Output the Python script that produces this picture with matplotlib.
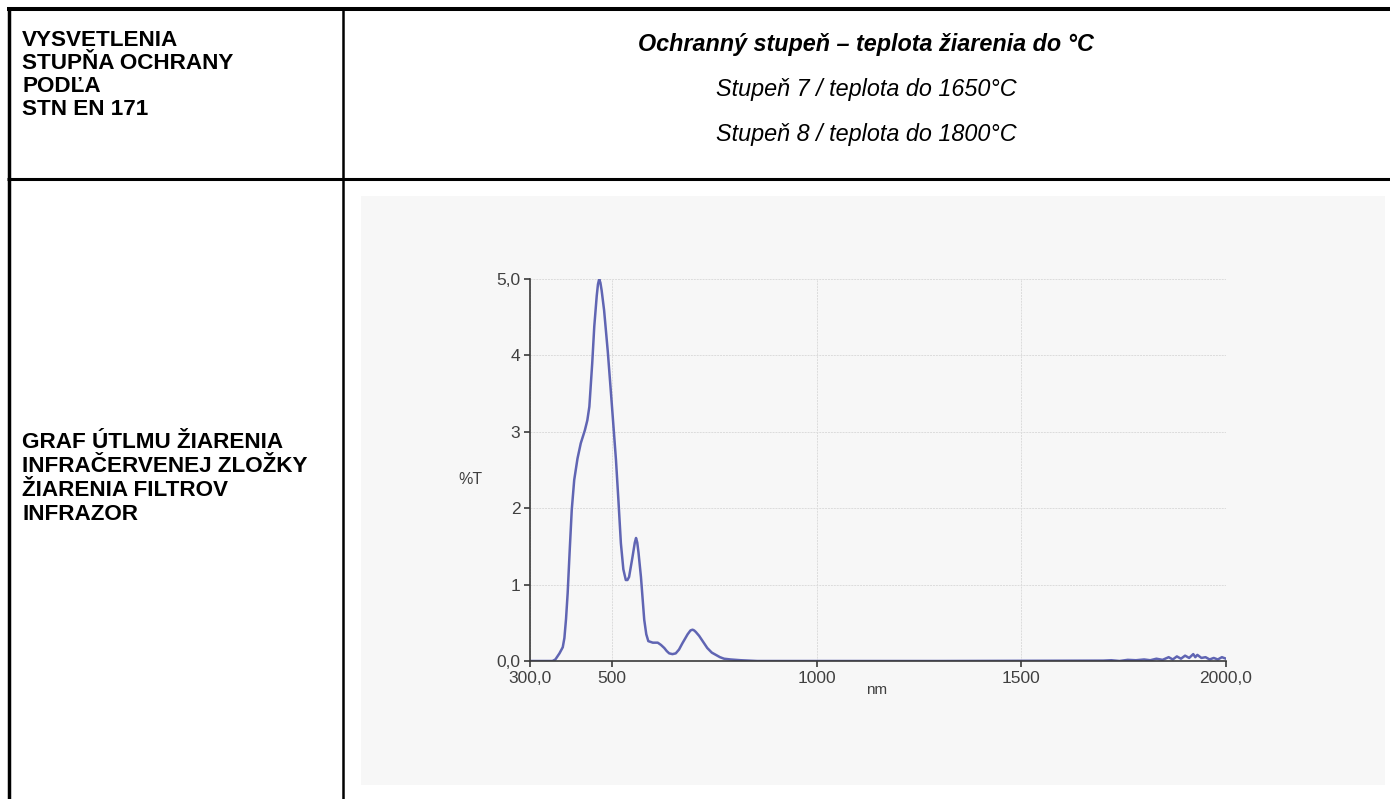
import matplotlib
matplotlib.use('Agg')
import matplotlib.pyplot as plt
from matplotlib.patches import Rectangle

# spectrum (nm, %T)
wavelength = [300, 330, 355, 362, 367, 372, 376, 380, 384, 388, 392, 397, 402, 408, 416, 424,
              434, 440, 445, 452, 457, 463, 466, 469, 472, 475, 481, 490, 499, 510, 516, 522,
              528, 534, 538, 542, 550, 556, 559, 562, 565, 571, 579, 584, 589, 600, 612,
              620, 628, 634, 640, 648, 656, 664, 672, 685, 692, 697, 701, 705, 713, 723,
              733, 744, 754, 764, 774, 790, 815, 855, 1000, 1300, 1700, 1720, 1740, 1760,
              1780, 1800, 1815, 1830, 1845, 1860, 1870, 1880, 1890, 1900, 1910, 1920,
              1925, 1930, 1940, 1950, 1960, 1970, 1980, 1990, 2000]
transmission = [0.0, 0.0, 0.0, 0.02, 0.06, 0.1, 0.14, 0.18, 0.3, 0.55, 0.89, 1.45, 1.98,
                2.37, 2.65, 2.85, 3.02, 3.15, 3.33, 3.9, 4.38, 4.78, 4.93, 5.0, 4.95, 4.85,
                4.59, 4.05, 3.42, 2.63, 2.1, 1.54, 1.2, 1.06, 1.06, 1.1, 1.35, 1.55, 1.61,
                1.55, 1.42, 1.10, 0.54, 0.35, 0.26, 0.24, 0.24, 0.21, 0.17, 0.13, 0.10,
                0.09, 0.10, 0.15, 0.23, 0.35, 0.40, 0.41, 0.40, 0.38, 0.33, 0.25, 0.17,
                0.11, 0.08, 0.05, 0.03, 0.02, 0.01, 0.0, 0.0, 0.0, 0.005, 0.01, 0.0, 0.015,
                0.01, 0.02, 0.01, 0.03, 0.015, 0.05, 0.02, 0.06, 0.03, 0.07, 0.04, 0.09,
                0.05, 0.08, 0.04, 0.05, 0.02, 0.04, 0.02, 0.05, 0.03]

x_ticks = [300, 500, 1000, 1500, 2000]
x_labels = ['300,0', '500', '1000', '1500', '2000,0']
y_ticks = [0, 1, 2, 3, 4, 5]
y_labels = ['0,0', '1', '2', '3', '4', '5,0']

left_top = ['VYSVETLENIA', 'STUPŇA OCHRANY', 'PODĽA', 'STN EN 171']
left_bottom = ['GRAF ÚTLMU ŽIARENIA', 'INFRAČERVENEJ ZLOŽKY', 'ŽIARENIA FILTROV', 'INFRAZOR']
right_title = 'Ochranný stupeň – teplota žiarenia do °C'
right_lines = ['Stupeň 7 / teplota do 1650°C', 'Stupeň 8 / teplota do 1800°C']

plt.rcParams['font.family'] = ['Liberation Sans', 'DejaVu Sans']

W, H = 1390, 799
fig = plt.figure(figsize=(W / 100, H / 100), dpi=100)
fig.patch.set_facecolor('white')

# page layer in pixel coordinates
page = fig.add_axes([0, 0, 1, 1])
page.set_xlim(0, W)
page.set_ylim(H, 0)
page.axis('off')

page.add_patch(Rectangle((361, 196), 1024, 589, facecolor='#f7f7f7', edgecolor='none'))
page.plot([7, W], [9, 9], color='black', lw=2.9, solid_capstyle='butt')
page.plot([7, W], [178.5, 178.5], color='black', lw=2.2, solid_capstyle='butt')
page.plot([9, 9], [7, H], color='black', lw=2.5, solid_capstyle='butt')
page.plot([343, 343], [7, H], color='black', lw=1.8, solid_capstyle='butt')

fs = 16.2
for i, t in enumerate(left_top):
    page.text(22, 46 + i * 23, t, fontsize=fs, fontweight='bold', va='baseline', ha='left')
for i, t in enumerate(left_bottom):
    page.text(22, 448 + i * 24, t, fontsize=fs, fontweight='bold', va='baseline', ha='left')
page.text(866, 51, right_title, fontsize=16.8, fontweight='bold', style='italic',
          va='baseline', ha='center')
for i, t in enumerate(right_lines):
    page.text(866, 96 + i * 45, t, fontsize=16.8, style='italic', va='baseline', ha='center')

# the chart
ax = fig.add_axes([530 / W, 1 - 661 / H, 696 / W, 382 / H])
ax.set_facecolor('#f7f7f7')
ax.plot(wavelength, transmission, color='#6065b3', lw=1.8)
ax.set_xlim(300, 2000)
ax.set_ylim(0, 5)
ax.set_xticks(x_ticks)
ax.set_xticklabels(x_labels)
ax.set_yticks(y_ticks)
ax.set_yticklabels(y_labels)
ax.grid(True, color='#dcdcdc', lw=0.7, ls=(0, (2, 1)))
for s in ['top', 'right']:
    ax.spines[s].set_visible(False)
for s in ['left', 'bottom']:
    ax.spines[s].set_color('#3a3a3a')
    ax.spines[s].set_linewidth(1.2)
ax.tick_params(direction='out', length=4, width=1.2, color='#3a3a3a',
               labelsize=12.5, labelcolor='#404040', pad=3)
page.text(470, 480, '%T', fontsize=11.5, color='#404040', ha='center', va='center')
page.text(877, 690, 'nm', fontsize=11, color='#404040', ha='center', va='center')

fig.savefig('out.png', dpi=100)
